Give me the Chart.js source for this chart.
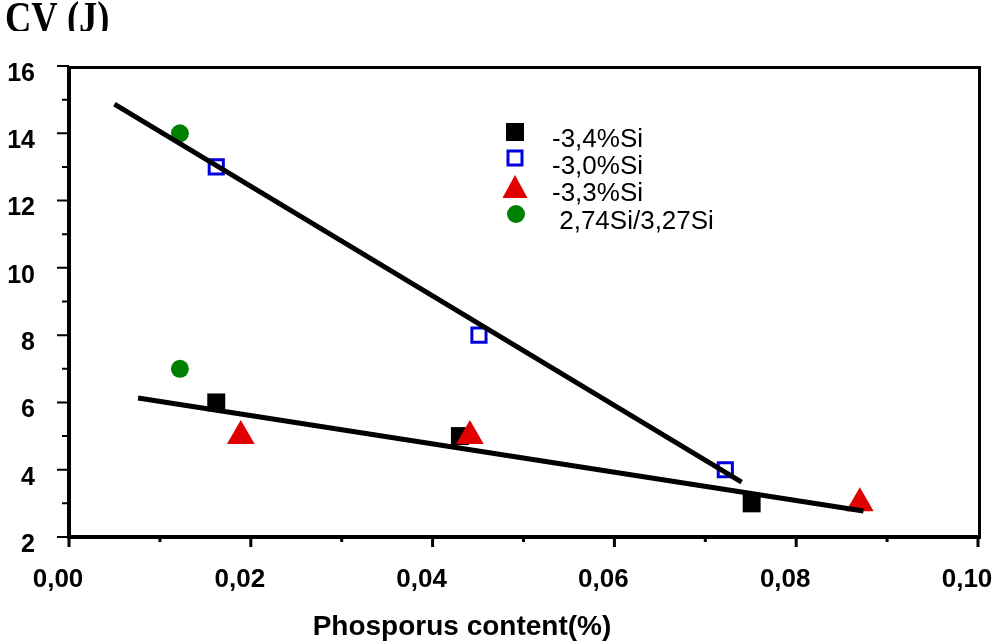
<!DOCTYPE html>
<html>
<head>
<meta charset="utf-8">
<script src="https://cdn.jsdelivr.net/npm/chart.js@4.4.0/dist/chart.umd.min.js"></script>
<style>
  html, body { margin: 0; padding: 0; background: #ffffff; }
  #wrap { width: 994px; height: 644px; position: relative; }
</style>
</head>
<body>
<div id="wrap"><canvas id="chart" width="994" height="644"></canvas></div>
<script>
// Axis ticks
const xTickValues = [0, 0.02, 0.04, 0.06, 0.08, 0.10];
const xTickLabels = ['0,00', '0,02', '0,04', '0,06', '0,08', '0,10'];
const xMinorValues = [0.01, 0.03, 0.05, 0.07, 0.09];
const yTickValues = [2, 4, 6, 8, 10, 12, 14, 16];
const yTickLabels = ['2', '4', '6', '8', '10', '12', '14', '16'];
const yMinorValues = [3, 5, 7, 9, 11, 13, 15];

// Measured series: phosphorus content (%) vs impact energy CV (J)
const si34P  = [0.0162, 0.0430, 0.0751];
const si34CV = [6.0, 5.0, 3.0];
const si30P  = [0.0162, 0.0451, 0.0722];
const si30CV = [13.0, 8.0, 4.0];
const si33P  = [0.0189, 0.0441, 0.0870];
const si33CV = [5.0, 5.0, 3.0];
const siMixP  = [0.0122, 0.0122];
const siMixCV = [14.0, 7.0];

// Trend lines (end points)
const fitHighP  = [0.0050, 0.0740];
const fitHighCV = [14.87, 3.63];
const fitLowP   = [0.0076, 0.0874];
const fitLowCV  = [6.13, 2.77];

const seriesLabels = ['-3,4%Si', '-3,0%Si', '-3,3%Si', ' 2,74Si/3,27Si'];
const xTitle = 'Phosporus content(%)';
const yTitle = 'CV (J)';

const pts = (xs, ys) => xs.map((x, i) => ({ x: x, y: ys[i] }));

const RED = '#e00000', BLUE = '#0000dd', GREEN = '#008000', BLACK = '#000000';

// Axes frame, tick marks, titles and legend
const decor = {
  id: 'decor',
  beforeDatasetsDraw(chart) {
    const ctx = chart.ctx;
    const xs = chart.scales.x, ys = chart.scales.y;
    const a = chart.chartArea;
    ctx.save();
    ctx.strokeStyle = BLACK;
    ctx.lineCap = 'butt';
    // frame
    ctx.lineWidth = 3;
    ctx.beginPath();
    ctx.moveTo(a.left, a.top + 1.5); ctx.lineTo(a.right + 3, a.top + 1.5);
    ctx.moveTo(a.right + 1.5, a.top); ctx.lineTo(a.right + 1.5, a.bottom);
    ctx.stroke();
    ctx.lineWidth = 4;
    ctx.beginPath();
    ctx.moveTo(a.left, a.top); ctx.lineTo(a.left, a.bottom + 2);
    ctx.moveTo(a.left - 2, a.bottom); ctx.lineTo(a.right + 3, a.bottom);
    ctx.stroke();
    // y ticks
    ctx.lineWidth = 2;
    ctx.beginPath();
    yTickValues.forEach(v => { const p = ys.getPixelForValue(v); ctx.moveTo(a.left - 12, p); ctx.lineTo(a.left, p); });
    yMinorValues.forEach(v => { const p = ys.getPixelForValue(v); ctx.moveTo(a.left - 7, p); ctx.lineTo(a.left, p); });
    ctx.stroke();
    // x ticks
    ctx.lineWidth = 3;
    ctx.beginPath();
    xTickValues.forEach(v => { const p = xs.getPixelForValue(v); ctx.moveTo(p, a.bottom); ctx.lineTo(p, a.bottom + 10); });
    xMinorValues.forEach(v => { const p = xs.getPixelForValue(v); ctx.moveTo(p, a.bottom); ctx.lineTo(p, a.bottom + 5); });
    ctx.stroke();
    ctx.restore();
  },
  afterDraw(chart) {
    const ctx = chart.ctx;
    ctx.save();
    ctx.fillStyle = BLACK;
    // x axis title
    ctx.font = 'bold 28px "Liberation Sans", Arial, sans-serif';
    ctx.textAlign = 'center';
    ctx.textBaseline = 'alphabetic';
    ctx.fillText(xTitle, 462, 635);
    // y axis title, top-left
    ctx.save();
    ctx.beginPath();
    ctx.rect(0, 0, 200, 31);
    ctx.clip();
    ctx.translate(5, 0);
    ctx.scale(0.83, 1);
    ctx.font = 'bold 44px "Liberation Serif", "Times New Roman", serif';
    ctx.textAlign = 'left';
    ctx.fillText(yTitle, 0, 32);
    ctx.restore();
    // legend
    const rows = [
      { my: 132, ty: 147 },
      { my: 158, ty: 174 },
      { my: 187, ty: 201 },
      { my: 214, ty: 229 }
    ];
    const mx = 515;
    // filled black square
    ctx.fillStyle = BLACK;
    ctx.fillRect(mx - 9, rows[0].my - 9, 18, 18);
    // open blue square
    ctx.strokeStyle = BLUE;
    ctx.lineWidth = 3;
    ctx.strokeRect(mx - 7, rows[1].my - 7, 14, 14);
    // red triangle
    ctx.fillStyle = RED;
    ctx.beginPath();
    ctx.moveTo(mx, rows[2].my - 12);
    ctx.lineTo(mx + 12.5, rows[2].my + 11);
    ctx.lineTo(mx - 12.5, rows[2].my + 11);
    ctx.closePath();
    ctx.fill();
    // green circle
    ctx.fillStyle = GREEN;
    ctx.beginPath();
    ctx.arc(mx + 1, rows[3].my, 9, 0, Math.PI * 2);
    ctx.fill();
    // labels
    ctx.fillStyle = BLACK;
    ctx.font = '26px "Liberation Sans", Arial, sans-serif';
    ctx.textAlign = 'left';
    ctx.textBaseline = 'alphabetic';
    seriesLabels.forEach((t, i) => ctx.fillText(t, 552, rows[i].ty));
    ctx.restore();
  }
};

new Chart(document.getElementById('chart'), {
  type: 'scatter',
  data: {
    datasets: [
      { label: 'fit high', data: pts(fitHighP, fitHighCV), showLine: true, borderColor: BLACK, borderWidth: 5,
        borderCapStyle: 'butt', pointRadius: 0, fill: false },
      { label: 'fit low', data: pts(fitLowP, fitLowCV), showLine: true, borderColor: BLACK, borderWidth: 5,
        borderCapStyle: 'butt', pointRadius: 0, fill: false },
      { label: seriesLabels[2], data: pts(si33P, si33CV), pointStyle: 'triangle', pointRadius: 16,
        backgroundColor: RED, borderColor: RED, borderWidth: 0 },
      { label: seriesLabels[1], data: pts(si30P, si30CV), pointStyle: 'rect', pointRadius: 10,
        backgroundColor: 'rgba(0,0,0,0)', borderColor: BLUE, borderWidth: 3 },
      { label: seriesLabels[3], data: pts(siMixP, siMixCV), pointStyle: 'circle', pointRadius: 9,
        backgroundColor: GREEN, borderColor: GREEN, borderWidth: 0 },
      { label: seriesLabels[0], data: pts(si34P, si34CV), pointStyle: 'rect', pointRadius: 12.7,
        backgroundColor: BLACK, borderColor: BLACK, borderWidth: 0 }
    ]
  },
  options: {
    responsive: false,
    animation: false,
    devicePixelRatio: 1,
    layout: { padding: { top: 66, right: 12, left: 0, bottom: 0 } },
    plugins: { legend: { display: false }, tooltip: { enabled: false }, title: { display: false } },
    scales: {
      x: {
        type: 'linear', min: 0, max: 0.10,
        grid: { display: false, drawTicks: false },
        border: { display: false },
        afterBuildTicks: s => { s.ticks = xTickValues.map(v => ({ value: v })); },
        afterFit: s => { s.height = 107; s.paddingLeft = 0; s.paddingRight = 0; },
        ticks: {
          autoSkip: false, maxRotation: 0, padding: 27, labelOffset: -11, color: BLACK,
          font: { family: '"Liberation Sans", Arial, sans-serif', size: 26, weight: 'bold' },
          callback: (v, i) => xTickLabels[i]
        }
      },
      y: {
        type: 'linear', min: 2, max: 16,
        grid: { display: false, drawTicks: false },
        border: { display: false },
        afterBuildTicks: s => { s.ticks = yTickValues.map(v => ({ value: v })); },
        afterFit: s => { s.width = 69; s.paddingTop = 0; s.paddingBottom = 0; },
        ticks: {
          autoSkip: false, padding: 34, labelOffset: 8, color: BLACK,
          font: { family: '"Liberation Sans", Arial, sans-serif', size: 25, weight: 'bold' },
          callback: (v, i) => yTickLabels[i]
        }
      }
    }
  },
  plugins: [decor]
});
</script>
</body>
</html>
